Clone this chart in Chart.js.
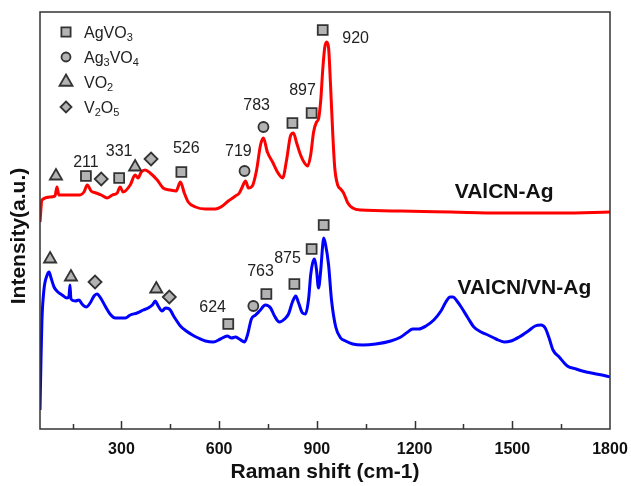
<!DOCTYPE html>
<html>
<head>
<meta charset="utf-8">
<script src="https://cdn.jsdelivr.net/npm/chart.js@4.4.0/dist/chart.umd.min.js"></script>
<style>
  html, body { margin: 0; padding: 0; background: #fff; }
  #wrap { width: 631px; height: 486px; }
</style>
</head>
<body>
<div id="wrap"><canvas id="raman"></canvas></div>
<script>
// spectra (x = Raman shift, y = arbitrary intensity)
const redX = [50, 56, 81, 96, 102, 108, 142, 173, 185, 195, 207, 222, 238, 256, 272, 287, 296, 305, 327, 342, 351, 361, 373, 388, 410, 428, 450, 468, 481, 493, 505, 527, 558, 588, 610, 628, 650, 662, 671, 681, 690, 702, 715, 727, 736, 748, 764, 779, 795, 807, 819, 828, 838, 850, 862, 872, 881, 890, 899, 905, 912, 918, 924, 930, 936, 942, 949, 955, 964, 973, 982, 995, 1010, 1035, 1158, 1312, 1465, 1650, 1800];
const redY = [207, 229, 232, 233, 242, 234, 234, 234, 237, 244, 238, 236, 234, 231, 234, 236, 242, 237, 244, 254, 251, 257, 259, 256, 249, 241, 239, 238, 247, 236, 227, 222, 220, 220, 223, 228, 233, 236, 242, 248, 241, 243, 259, 284, 291, 277, 267, 257, 251, 269, 293, 296, 286, 274, 266, 263, 274, 297, 307, 310, 329, 359, 381, 387, 381, 344, 294, 261, 244, 240, 236, 226, 221, 219, 218, 217, 216, 216, 217];

const blueX = [50, 53, 56, 62, 72, 78, 84, 93, 105, 118, 133, 139, 142, 145, 158, 170, 179, 192, 204, 216, 225, 238, 250, 265, 281, 296, 312, 327, 348, 367, 382, 395, 404, 413, 425, 435, 447, 462, 481, 499, 518, 536, 558, 582, 604, 625, 638, 650, 662, 678, 687, 699, 712, 724, 742, 758, 770, 785, 801, 813, 825, 835, 844, 856, 865, 875, 881, 887, 893, 899, 905, 912, 918, 921, 927, 936, 945, 958, 973, 988, 1010, 1041, 1081, 1127, 1158, 1179, 1194, 1213, 1235, 1259, 1281, 1296, 1309, 1318, 1330, 1345, 1364, 1382, 1404, 1425, 1450, 1475, 1496, 1521, 1549, 1570, 1588, 1601, 1613, 1625, 1644, 1669, 1696, 1727, 1758, 1788, 1800];
const blueY = [19, 69, 109, 139, 154, 157, 151, 142, 137, 134, 131, 133, 144, 130, 128, 129, 125, 122, 126, 133, 135, 130, 123, 115, 111, 111, 111, 114, 116, 119, 121, 124, 128, 123, 118, 121, 120, 112, 103, 98, 94, 91, 88, 87, 90, 93, 91, 92, 90, 87, 94, 110, 114, 118, 124, 121, 113, 107, 110, 115, 127, 133, 126, 116, 115, 131, 154, 166, 170, 159, 141, 159, 184, 191, 184, 164, 129, 102, 91, 88, 85, 84, 85, 88, 92, 97, 100, 100, 103, 109, 118, 127, 132, 132, 128, 121, 111, 102, 97, 94, 90, 87, 88, 92, 98, 103, 104, 101, 91, 79, 72, 63, 60, 57, 55, 53, 52];

// phase markers
const agvo3X = [191, 293, 484, 825, 884, 918, 628, 745, 831, 884, 921];
const agvo3Y = [253, 251, 257, 306, 316, 399, 105, 135, 145, 180, 204];
const ag3vo4X = [678, 736, 705];
const ag3vo4Y = [258, 302, 123];
const vo2X = [99, 342, 81, 145, 407];
const vo2Y = [253, 262, 170, 152, 140];
const v2o5X = [238, 391, 219, 447];
const v2o5Y = [250, 270, 147, 132];

// peak position labels
const peakText = ['211', '331', '526', '719', '783', '897', '920', '624', '763', '875'];
const peakX = [191, 293, 499, 659, 715, 856, 1019, 580, 727, 810];
const peakY = [266, 277, 280, 277, 323, 338, 390, 121, 157, 170];

const sampleNames = ['VAlCN-Ag', 'VAlCN/VN-Ag'];
const sampleX = [1475, 1537];
const sampleY = [237, 141];

const xTicks = [300, 600, 900, 1200, 1500, 1800];

const FONT = 'Arial, "Liberation Sans", sans-serif';
const markFill = '#b3b3b3';
const markEdge = '#333333';

function pts(xs, ys) {
  return xs.map((x, i) => ({ x: x, y: ys[i] }));
}

function markerSet(label, xs, ys, style, r) {
  return {
    label: label,
    type: 'scatter',
    data: pts(xs, ys),
    pointStyle: style,
    pointRadius: r,
    pointBackgroundColor: markFill,
    pointBorderColor: markEdge,
    pointBorderWidth: 1.8,
    showLine: false,
    order: 0
  };
}

// legend with subscripts: [marker style, size, [[text, sub?], ...]]
const legendRows = [
  ['rect', 6.5, [['AgVO', false], ['3', true]]],
  ['circle', 4.5, [['Ag', false], ['3', true], ['VO', false], ['4', true]]],
  ['triangle', 7.5, [['VO', false], ['2', true]]],
  ['rectRot', 5.5, [['V', false], ['2', true], ['O', false], ['5', true]]]
];

function drawShape(ctx, style, x, y, r) {
  ctx.beginPath();
  if (style === 'rect') {
    const s = r * Math.SQRT1_2;
    ctx.rect(x - s, y - s, 2 * s, 2 * s);
  } else if (style === 'circle') {
    ctx.arc(x, y, r, 0, Math.PI * 2);
  } else if (style === 'triangle') {
    ctx.moveTo(x, y - r);
    ctx.lineTo(x + r * 0.866, y + r * 0.5);
    ctx.lineTo(x - r * 0.866, y + r * 0.5);
    ctx.closePath();
  } else {
    ctx.moveTo(x, y - r);
    ctx.lineTo(x + r, y);
    ctx.lineTo(x, y + r);
    ctx.lineTo(x - r, y);
    ctx.closePath();
  }
  ctx.fillStyle = markFill;
  ctx.fill();
  ctx.lineWidth = 1.8;
  ctx.strokeStyle = markEdge;
  ctx.stroke();
}

const decor = {
  id: 'decor',
  afterDatasetsDraw(chart) {
    const ctx = chart.ctx;
    const a = chart.chartArea;
    const xs = chart.scales.x;
    const ys = chart.scales.y;
    ctx.save();

    // frame
    ctx.strokeStyle = '#333';
    ctx.lineWidth = 1.5;
    ctx.strokeRect(a.left, a.top, a.right - a.left, a.bottom - a.top);

    // inward ticks on the bottom axis
    for (let v = 150; v < 1800; v += 150) {
      const px = Math.round(xs.getPixelForValue(v)) + 0.5;
      const len = v % 300 === 0 ? 8 : 5;
      ctx.beginPath();
      ctx.moveTo(px, a.bottom);
      ctx.lineTo(px, a.bottom - len);
      ctx.stroke();
    }

    // peak labels
    ctx.fillStyle = '#222';
    ctx.font = '16px ' + FONT;
    ctx.textAlign = 'center';
    ctx.textBaseline = 'middle';
    peakText.forEach((t, i) => {
      ctx.fillText(t, xs.getPixelForValue(peakX[i]), ys.getPixelForValue(peakY[i]));
    });

    // sample names
    ctx.fillStyle = '#111';
    ctx.font = 'bold 21px ' + FONT;
    sampleNames.forEach((t, i) => {
      ctx.fillText(t, xs.getPixelForValue(sampleX[i]), ys.getPixelForValue(sampleY[i]));
    });

    // legend
    ctx.textAlign = 'left';
    ctx.textBaseline = 'alphabetic';
    legendRows.forEach((row, i) => {
      const y = 32 + i * 25;
      drawShape(ctx, row[0], 66, y, row[1]);
      let x = 84;
      ctx.fillStyle = '#222';
      row[2].forEach(part => {
        ctx.font = (part[1] ? '11px ' : '16px ') + FONT;
        ctx.fillText(part[0], x, y + (part[1] ? 9 : 6));
        x += ctx.measureText(part[0]).width;
      });
    });

    // axis titles
    ctx.fillStyle = '#111';
    ctx.font = 'bold 21px ' + FONT;
    ctx.textAlign = 'center';
    ctx.textBaseline = 'middle';
    ctx.fillText('Raman shift (cm-1)', 325, 472);
    ctx.translate(19, 236);
    ctx.rotate(-Math.PI / 2);
    ctx.fillText('Intensity(a.u.)', 0, 0);
    ctx.restore();
  }
};

new Chart(document.getElementById('raman'), {
  type: 'line',
  data: {
    datasets: [
      markerSet('AgVO3', agvo3X, agvo3Y, 'rect', 7),
      markerSet('Ag3VO4', ag3vo4X, ag3vo4Y, 'circle', 5),
      markerSet('VO2', vo2X, vo2Y, 'triangle', 7),
      markerSet('V2O5', v2o5X, v2o5Y, 'rectRot', 6.5),
      {
        label: 'VAlCN-Ag',
        data: pts(redX, redY),
        borderColor: '#ff0000',
        borderWidth: 3,
        pointRadius: 0,
        cubicInterpolationMode: 'monotone',
        order: 1
      },
      {
        label: 'VAlCN/VN-Ag',
        data: pts(blueX, blueY),
        borderColor: '#0000ff',
        borderWidth: 3,
        pointRadius: 0,
        cubicInterpolationMode: 'monotone',
        order: 1
      }
    ]
  },
  options: {
    responsive: true,
    maintainAspectRatio: false,
    animation: false,
    layout: { padding: { left: 40, top: 12, right: 21, bottom: 0 } },
    plugins: {
      legend: { display: false },
      tooltip: { enabled: false }
    },
    scales: {
      x: {
        type: 'linear',
        min: 50,
        max: 1800,
        afterBuildTicks: (scale) => {
          scale.ticks = xTicks.map(v => ({ value: v }));
        },
        afterFit: (scale) => {
          scale.height = 57;
          scale.paddingLeft = 0;
          scale.paddingRight = 0;
        },
        grid: { display: false, drawTicks: false },
        border: { display: false },
        ticks: {
          color: '#111',
          padding: 11,
          maxRotation: 0,
          callback: (v) => String(v),
          font: { family: FONT, size: 16, weight: 'bold' }
        }
      },
      y: {
        display: false,
        min: 0,
        max: 417
      }
    }
  },
  plugins: [decor]
});
</script>
</body>
</html>
